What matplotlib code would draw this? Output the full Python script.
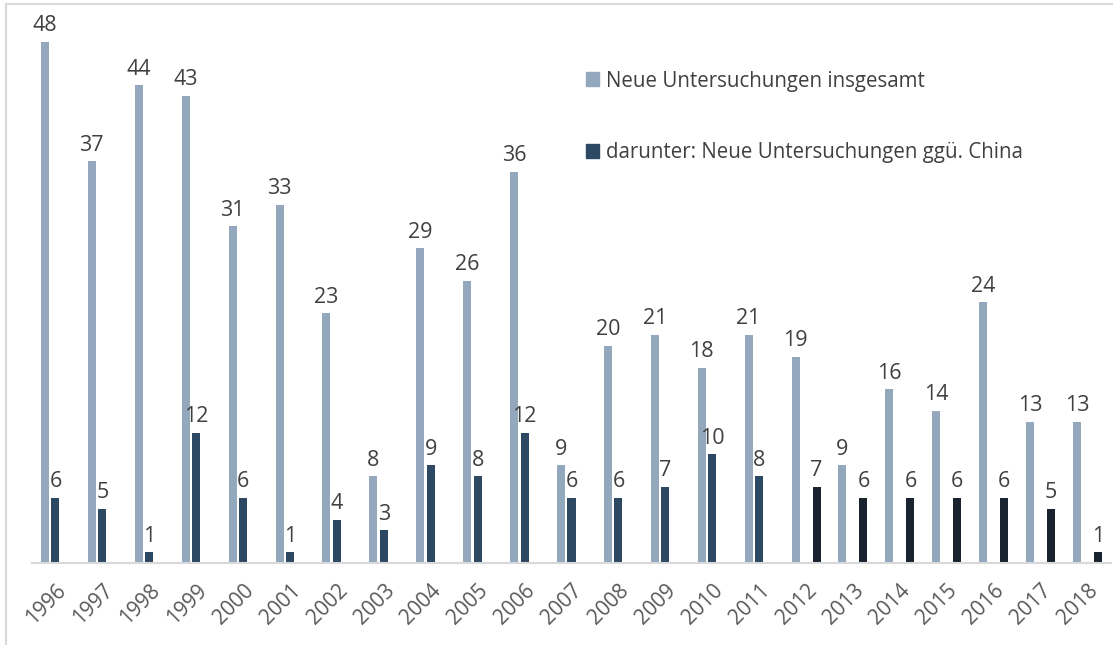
import numpy as np
import matplotlib
matplotlib.use("Agg")
import matplotlib.pyplot as plt
from matplotlib.lines import Line2D
from matplotlib.patches import Patch

# ── DATA ──────────────────────────────────────────────────────────────────────
years  = list(range(1996, 2019))
totals = [48, 37, 44, 43, 31, 33, 23, 8, 29, 26, 36, 9, 20, 21, 18, 21, 19, 9, 16, 14, 24, 13, 13]
china  = [6, 5, 1, 12, 6, 1, 4, 3, 9, 8, 12, 6, 6, 7, 10, 8, 7, 6, 6, 6, 6, 5, 1]
split_year = 2012   # china bars from here on are drawn in the darker colour

label_total = "Neue Untersuchungen insgesamt"
label_china = "darunter: Neue Untersuchungen ggü. China"

# ── STYLE ─────────────────────────────────────────────────────────────────────
C_TOTAL = "#93A8BD"
C_CHINA = "#2D4863"
C_DARK  = "#18232F"
C_TEXT  = "#404040"
C_TICK  = "#595959"
plt.rcParams["font.family"] = ["Open Sans", "DejaVu Sans"]

W, H = 1113, 645
fig = plt.figure(figsize=(W / 100, H / 100), dpi=100)
ax = fig.add_axes([32 / W, (H - 563) / H, (1111 - 32) / W, (563 - 20) / H])

x = np.arange(len(years))
slot, bw = 0.224, 0.171
china_a = [v if y < split_year else np.nan for y, v in zip(years, china)]
china_b = [v if y >= split_year else np.nan for y, v in zip(years, china)]

b1 = ax.bar(x - slot, totals, bw, color=C_TOTAL)
b2 = ax.bar(x, china_a, bw, color=C_CHINA)
b3 = ax.bar(x + slot, china_b, bw, color=C_DARK)

for bars in (b1, b2, b3):
    for r in bars:
        h = r.get_height()
        if np.isnan(h):
            continue
        ax.annotate(f"{int(h)}", (r.get_x() + r.get_width() / 2, h),
                    xytext=(0, 4), textcoords="offset points",
                    ha="center", va="bottom", fontsize=15.5, color=C_TEXT)

ax.set_xlim(-0.5, len(years) - 0.5)
ax.set_ylim(0, 50)
ax.set_xticks(x)
ax.set_xticklabels([str(y) for y in years], rotation=45, ha="right",
                   rotation_mode="anchor", fontsize=15, color=C_TICK)
ax.tick_params(axis="x", length=0, pad=12)
ax.set_yticks([])
for s in ["top", "right", "left"]:
    ax.spines[s].set_visible(False)
ax.spines["bottom"].set_color("#D9D9D9")
ax.spines["bottom"].set_linewidth(1.5)

handles = [Patch(color=C_TOTAL), Patch(color=C_CHINA)]
fig.legend(handles, [label_total, label_china], loc="upper left",
           bbox_to_anchor=(567 / W, 1 - 52 / H), frameon=False,
           fontsize=14.8, labelcolor=C_TEXT, labelspacing=2.45,
           handlelength=0.65, handleheight=0.65, handletextpad=0.35)

# chart frame (top and left edges visible)
fig.add_artist(Line2D([6 / W, 1], [1 - 4 / H, 1 - 4 / H], color="#D9D9D9", lw=1.5))
fig.add_artist(Line2D([6 / W, 6 / W], [0, 1 - 4 / H], color="#D9D9D9", lw=1.5))

fig.savefig("out.png", dpi=100)
